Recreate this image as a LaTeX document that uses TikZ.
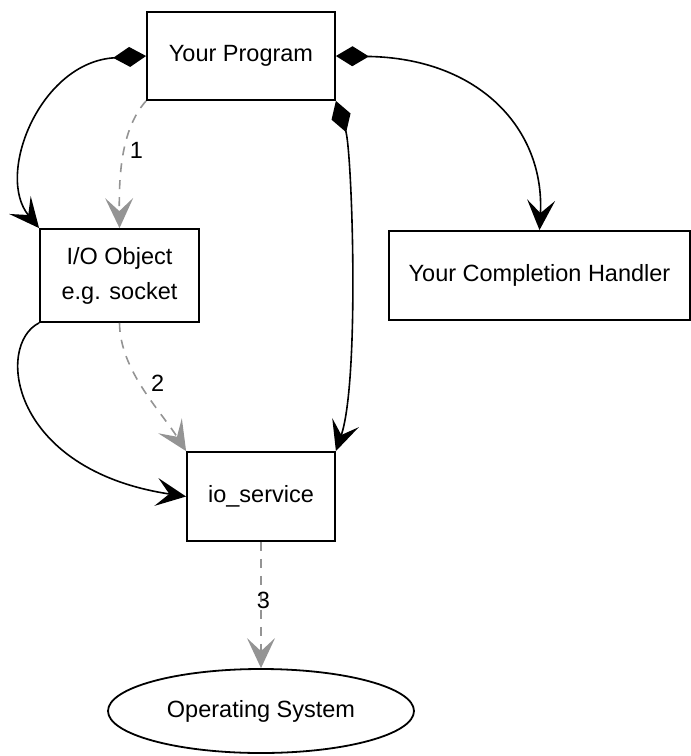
\documentclass[tikz,border=0pt]{standalone}
\usepackage{fontspec}
\setmainfont{Liberation Sans}
\usetikzlibrary{arrows.meta,shapes.geometric}
\tikzset{
  box/.style={draw=black, line width=1.8pt, inner sep=0pt, align=center,
              font=\fontsize{23.5}{35}\selectfont},
  oval/.style={ellipse, draw=black, line width=1.8pt, inner sep=0pt,
               minimum width=306pt, minimum height=84pt,
               font=\fontsize{23.5}{35}\selectfont},
  owns/.style={line width=1.6pt, black,
               {Diamond[length=33pt,width=20pt]}-{Stealth[length=30pt,width=28pt,inset=13pt]}},
  calls/.style={line width=1.6pt, black,
               -{Stealth[length=30pt,width=28pt,inset=13pt]}},
  flow/.style={line width=1.6pt, black!42, dash pattern=on 9pt off 8pt,
               -{Stealth[length=30pt,width=28pt,inset=13pt]}},
  num/.style={font=\fontsize{23.5}{28}\selectfont, inner sep=1pt, text=black}
}
\begin{document}
\begin{tikzpicture}[x=1pt,y=-1pt]
  \useasboundingbox (0,0) rectangle (691,756);

  % nodes
  \node[box, minimum width=188pt, minimum height=88pt] (prog) at (241,56) {Your Program};
  \node[box, minimum width=159pt, minimum height=93pt] (io) at (119.5,275.5) {I/O Object\\e.g. socket};
  \node[box, minimum width=301pt, minimum height=89pt] (handler) at (539.5,275.5) {Your Completion Handler};
  \node[box, minimum width=148pt, minimum height=89pt] (svc) at (261,496.5) {io\_service};
  \node[oval] (os) at (261,711) {Operating System};

  % ownership edges
  \draw[owns] (prog.west) .. controls (40,62) and (-5,175) .. (io.north west);
  \draw[owns] (prog.east) .. controls (480,58) and (545,130) .. (handler.north);
  \draw[owns] (prog.south east) .. controls (352,150) and (360,380) .. (svc.north east);
  \draw[calls] (io.south west) .. controls (-5,345) and (10,470) .. (svc.west);

  % numbered operation flow
  \draw[flow] (prog.south west) .. controls (120,130) and (119,180) .. (io.north)
    node[num, pos=0.45, right=4pt] (n1) {1};
  \draw[flow] (io.south) .. controls (120,370) and (160,410) .. (svc.north west)
    node[num, pos=0.45, right=10pt] (n2) {2};
  \draw[flow] (svc.south) -- (os.north)
    node[num, pos=0.46, right=-6pt] (n3) {3};
\end{tikzpicture}
\end{document}
